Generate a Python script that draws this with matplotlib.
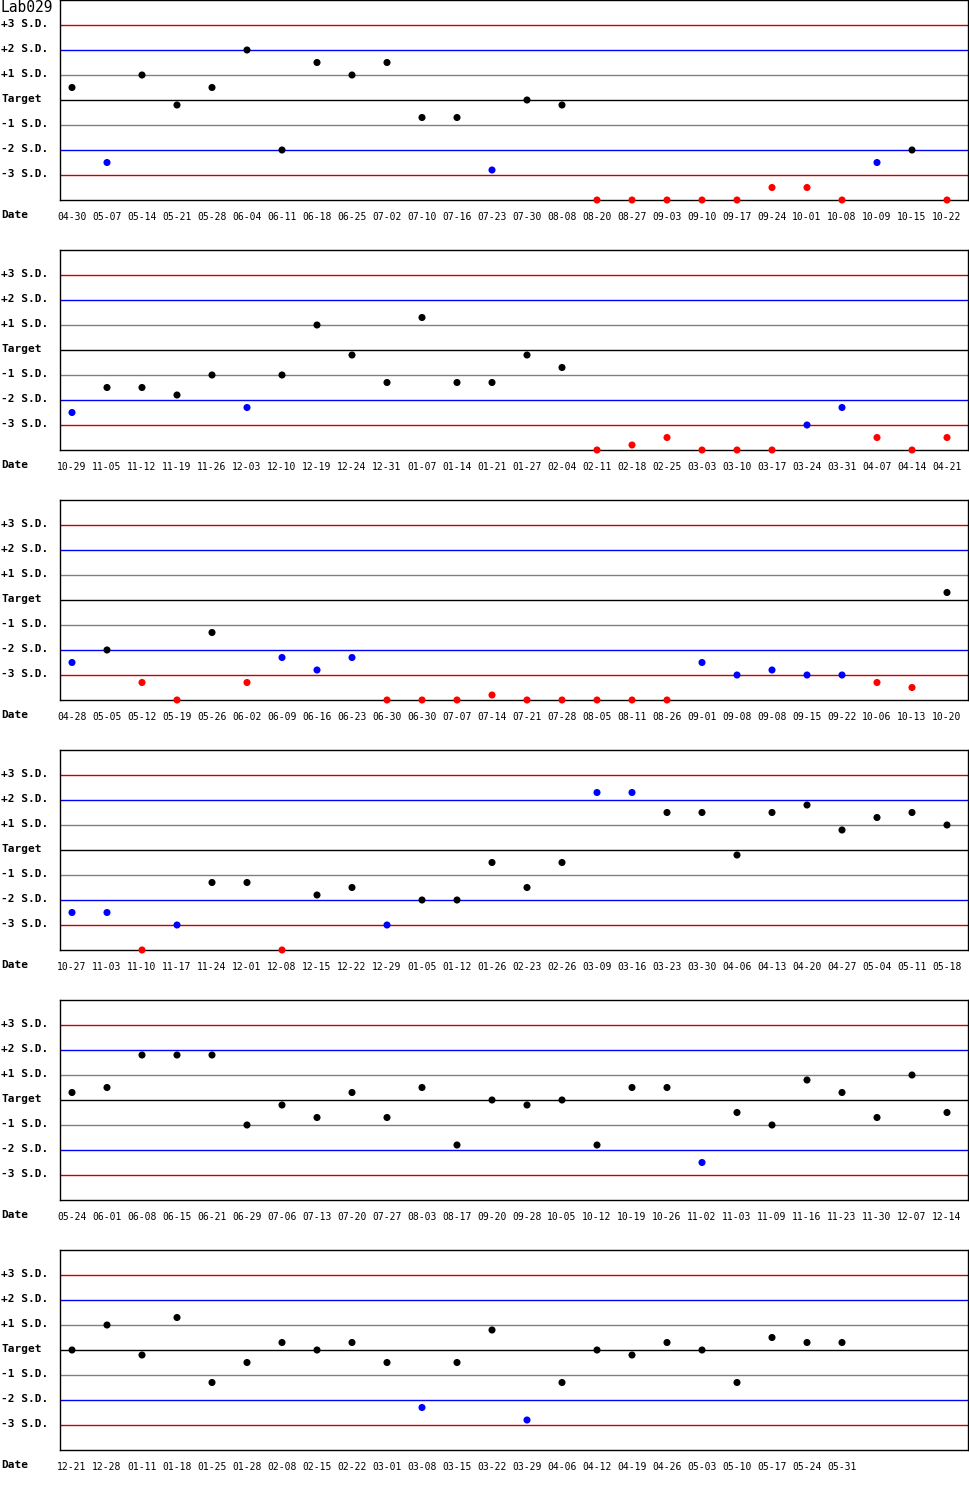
import numpy as np
from matplotlib import pyplot as plt

# QC chart for Lab029, values in S.D. from target (-4 = off the bottom)

dates1 = ["04-30", "05-07", "05-14", "05-21", "05-28", "06-04", "06-11", "06-18", "06-25",
          "07-02", "07-10", "07-16", "07-23", "07-30", "08-08", "08-20", "08-27", "09-03",
          "09-10", "09-17", "09-24", "10-01", "10-08", "10-09", "10-15", "10-22"]
sd1 = [0.5, -2.5, 1.0, -0.2, 0.5, 2.0, -2.0, 1.5, 1.0, 1.5, -0.7, -0.7, -2.8, 0.0, -0.2,
       -4, -4, -4, -4, -4, -3.5, -3.5, -4, -2.5, -2.0, -4]

dates2 = ["10-29", "11-05", "11-12", "11-19", "11-26", "12-03", "12-10", "12-19", "12-24",
          "12-31", "01-07", "01-14", "01-21", "01-27", "02-04", "02-11", "02-18", "02-25",
          "03-03", "03-10", "03-17", "03-24", "03-31", "04-07", "04-14", "04-21"]
sd2 = [-2.5, -1.5, -1.5, -1.8, -1.0, -2.3, -1.0, 1.0, -0.2, -1.3, 1.3, -1.3, -1.3, -0.2,
       -0.7, -4, -3.8, -3.5, -4, -4, -4, -3.0, -2.3, -3.5, -4, -3.5]

dates3 = ["04-28", "05-05", "05-12", "05-19", "05-26", "06-02", "06-09", "06-16", "06-23",
          "06-30", "06-30", "07-07", "07-14", "07-21", "07-28", "08-05", "08-11", "08-26",
          "09-01", "09-08", "09-08", "09-15", "09-22", "10-06", "10-13", "10-20"]
sd3 = [-2.5, -2.0, -3.3, -4, -1.3, -3.3, -2.3, -2.8, -2.3, -4, -4, -4, -3.8, -4, -4, -4,
       -4, -4, -2.5, -3.0, -2.8, -3.0, -3.0, -3.3, -3.5, 0.3]

dates4 = ["10-27", "11-03", "11-10", "11-17", "11-24", "12-01", "12-08", "12-15", "12-22",
          "12-29", "01-05", "01-12", "01-26", "02-23", "02-26", "03-09", "03-16", "03-23",
          "03-30", "04-06", "04-13", "04-20", "04-27", "05-04", "05-11", "05-18"]
sd4 = [-2.5, -2.5, -4, -3.0, -1.3, -1.3, -4, -1.8, -1.5, -3.0, -2.0, -2.0, -0.5, -1.5,
       -0.5, 2.3, 2.3, 1.5, 1.5, -0.2, 1.5, 1.8, 0.8, 1.3, 1.5, 1.0]

dates5 = ["05-24", "06-01", "06-08", "06-15", "06-21", "06-29", "07-06", "07-13", "07-20",
          "07-27", "08-03", "08-17", "09-20", "09-28", "10-05", "10-12", "10-19", "10-26",
          "11-02", "11-03", "11-09", "11-16", "11-23", "11-30", "12-07", "12-14"]
sd5 = [0.3, 0.5, 1.8, 1.8, 1.8, -1.0, -0.2, -0.7, 0.3, -0.7, 0.5, -1.8, 0.0, -0.2, 0.0,
       -1.8, 0.5, 0.5, -2.5, -0.5, -1.0, 0.8, 0.3, -0.7, 1.0, -0.5]

dates6 = ["12-21", "12-28", "01-11", "01-18", "01-25", "01-28", "02-08", "02-15", "02-22",
          "03-01", "03-08", "03-15", "03-22", "03-29", "04-06", "04-12", "04-19", "04-26",
          "05-03", "05-10", "05-17", "05-24", "05-31"]
sd6 = [0.0, 1.0, -0.2, 1.3, -1.3, -0.5, 0.3, 0.0, 0.3, -0.5, -2.3, -0.5, 0.8, -2.8, -1.3,
       0.0, -0.2, 0.3, 0.0, -1.3, 0.5, 0.3, 0.3]

panels = [(dates1, sd1), (dates2, sd2), (dates3, sd3), (dates4, sd4), (dates5, sd5), (dates6, sd6)]

levels = [3, 2, 1, 0, -1, -2, -3]
level_labels = ["+3 S.D.", "+2 S.D.", "+1 S.D.", "Target", "-1 S.D.", "-2 S.D.", "-3 S.D."]
level_colors = ["#cc0000", "#0000ff", "#808080", "#000000", "#808080", "#0000ff", "#cc0000"]

W, H = 970, 1500
mono = "DejaVu Sans Mono"

fig = plt.figure(figsize=(W / 100, H / 100), dpi=100)


def dot_color(v):
    if abs(v) > 3:
        return "#ff0000"
    if abs(v) > 2:
        return "#0000ff"
    return "#000000"


for k, (dates, vals) in enumerate(panels):
    top = 250 * k
    ax = fig.add_axes([60 / W, 1 - (top + 200) / H, 908 / W, 200 / H])
    ax.set_xlim(-12 / 35, 896 / 35)
    ax.set_ylim(-4, 4)
    for lv, c in zip(levels, level_colors):
        ax.axhline(lv, color=c, lw=1.0)
    x = np.arange(len(vals))
    ax.scatter(x, vals, s=26, c=[dot_color(v) for v in vals], zorder=3, clip_on=False,
               linewidths=0)
    ax.set_xticks([])
    ax.set_yticks([])
    for sp in ax.spines.values():
        sp.set_linewidth(1.0)

    # y labels on the left margin
    for lv, lab in zip(levels, level_labels):
        fig.text(1 / W, 1 - (top + 100 - 25 * lv - 1) / H, lab, fontsize=8, fontweight="bold",
                 family=mono, ha="left", va="center")
    fig.text(1 / W, 1 - (top + 215) / H, "Date", fontsize=8, fontweight="bold",
             family=mono, ha="left", va="center")
    for i, d in enumerate(dates):
        ax.text(i, -4, d, transform=ax.transData, fontsize=7, family=mono,
                ha="center", va="center")
        ax.texts[-1].set_position((i, -4.0 - 17 / 25))
        ax.texts[-1].set_clip_on(False)

fig.text(1 / W, 1 - 8 / H, "Lab029", fontsize=10.5, family=mono, ha="left", va="center")

plt.savefig("out.png", dpi=100)
